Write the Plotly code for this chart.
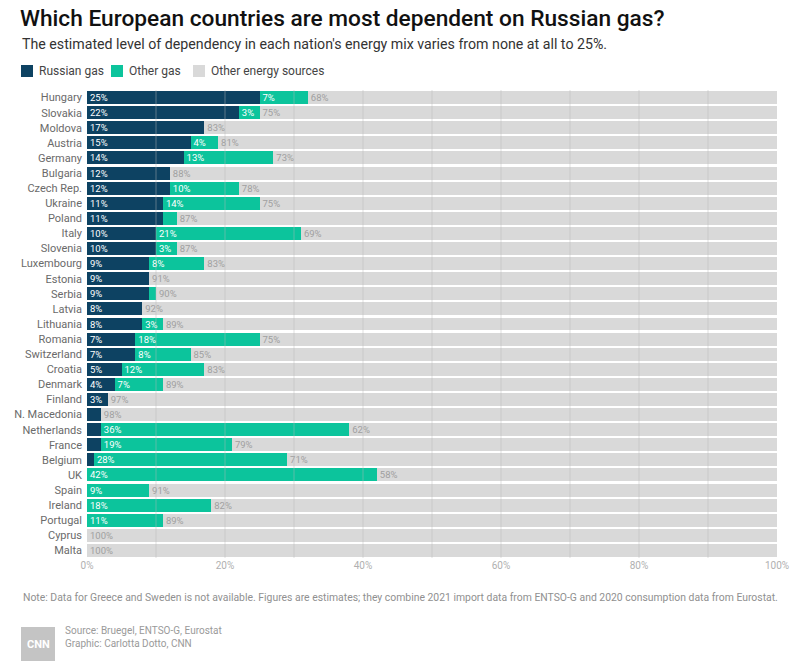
import plotly.graph_objects as go

# values (% of each country's energy mix)
countries = ["Hungary", "Slovakia", "Moldova", "Austria", "Germany", "Bulgaria",
             "Czech Rep.", "Ukraine", "Poland", "Italy", "Slovenia", "Luxembourg",
             "Estonia", "Serbia", "Latvia", "Lithuania", "Romania", "Switzerland",
             "Croatia", "Denmark", "Finland", "N. Macedonia", "Netherlands", "France",
             "Belgium", "UK", "Spain", "Ireland", "Portugal", "Cyprus", "Malta"]
russian_gas = [25, 22, 17, 15, 14, 12, 12, 11, 11, 10, 10, 9, 9, 9, 8, 8, 7, 7,
               5, 4, 3, 2, 2, 2, 1, 0, 0, 0, 0, 0, 0]
other_gas = [7, 3, 0, 4, 13, 0, 10, 14, 2, 21, 3, 8, 0, 1, 0, 3, 18, 8,
             12, 7, 0, 0, 36, 19, 28, 42, 9, 18, 11, 0, 0]
other_sources = [68, 75, 83, 81, 73, 88, 78, 75, 87, 69, 87, 83, 91, 90, 92, 89, 75, 85,
                 83, 89, 97, 98, 62, 79, 71, 58, 91, 82, 89, 100, 100]
x_ticks = [0, 20, 40, 60, 80, 100]

NAVY = "#0d4262"
TEAL = "#0cc49c"
GREY = "#d9d9d9"

W, H = 805, 671
L, R, T, B = 87, 28, 90, 113
PW, PH = W - L - R, H - T - B


def px(x):
    # page pixel -> paper x
    return (x - L) / PW


def py(y):
    # page pixel -> paper y
    return (H - B - y) / PH


def labels(vals):
    # small slivers are left unlabelled in the original
    return [f"{v}%" if v >= 3 else "" for v in vals]


fig = go.Figure()

series = [
    ("Russian gas", russian_gas, NAVY, "white"),
    ("Other gas", other_gas, TEAL, "white"),
    ("Other energy sources", other_sources, GREY, "#a0a0a0"),
]
for name, vals, color, txtcolor in series:
    fig.add_trace(go.Bar(
        y=countries,
        x=vals,
        name=name,
        orientation="h",
        marker=dict(color=color, line=dict(width=0)),
        text=labels(vals),
        textposition="inside",
        insidetextanchor="start",
        textangle=0,
        textfont=dict(family="Roboto", size=9.5, color=txtcolor),
        hoverinfo="skip",
        showlegend=False,
    ))

# faint gridlines drawn over the bars, every 10%
for g in range(10, 100, 10):
    fig.add_shape(type="line", xref="x", yref="paper", x0=g, x1=g, y0=0, y1=1,
                  line=dict(color="rgba(185,185,185,0.45)", width=1), layer="above")

# hand-made legend row
legend_items = [("Russian gas", NAVY, 21), ("Other gas", TEAL, 111), ("Other energy sources", GREY, 193)]
for name, color, x0 in legend_items:
    fig.add_shape(type="rect", xref="paper", yref="paper",
                  x0=px(x0), x1=px(x0 + 12), y0=py(77), y1=py(65),
                  fillcolor=color, line=dict(width=0))
    fig.add_annotation(text=name, xref="paper", yref="paper",
                       x=px(x0 + 16), y=py(71), xanchor="left", yanchor="middle",
                       showarrow=False, font=dict(family="Roboto", size=12, color="#444"))

fig.update_layout(
    width=W,
    height=H,
    barmode="stack",
    bargap=0.14,
    paper_bgcolor="white",
    plot_bgcolor="white",
    margin=dict(l=L, r=R, t=T, b=B, autoexpand=False),
    font=dict(family="Roboto", color="#555"),
    title=dict(
        text="Which European countries are most dependent on Russian gas?",
        x=20 / W, xanchor="left", y=1 - 18 / H, yanchor="middle",
        font=dict(family="Roboto", size=22.7, color="#111", weight=500),
    ),
    showlegend=False,
    uniformtext=dict(minsize=9, mode="show"),
)

fig.update_xaxes(
    range=[0, 100],
    tickvals=x_ticks,
    ticktext=[f"{t}%" for t in x_ticks],
    tickfont=dict(size=10, color="#b0b0b0"),
    showgrid=False,
    zeroline=False,
    showline=False,
    ticks="",
    automargin=False,
    fixedrange=True,
)
fig.update_yaxes(
    autorange="reversed",
    tickfont=dict(size=11, color="#6a6a6a"),
    showgrid=False,
    ticks="",
    ticklabelstandoff=4,
    automargin=False,
    fixedrange=True,
)

fig.add_annotation(
    text="The estimated level of dependency in each nation's energy mix varies from none at all to 25%.",
    xref="paper", yref="paper", x=px(20), y=py(44),
    xanchor="left", yanchor="middle", showarrow=False,
    font=dict(family="Roboto", size=14.2, color="#333"),
)
fig.add_annotation(
    text="Note: Data for Greece and Sweden is not available. Figures are estimates; they combine 2021 import data "
         "from ENTSO-G and 2020 consumption data from Eurostat.",
    xref="paper", yref="paper", x=px(21), y=py(597),
    xanchor="left", yanchor="middle", showarrow=False,
    font=dict(family="Roboto", size=10.4, color="#909090"),
)
fig.add_annotation(
    text="Source: Bruegel, ENTSO-G, Eurostat<br>Graphic: Carlotta Dotto, CNN",
    xref="paper", yref="paper", x=px(63), y=py(637),
    xanchor="left", yanchor="middle", showarrow=False, align="left",
    font=dict(family="Roboto", size=10, color="#9a9a9a"),
)
# CNN logo block
fig.add_shape(type="rect", xref="paper", yref="paper",
              x0=px(21), x1=px(55), y0=py(661), y1=py(627),
              fillcolor="#c4c4c4", line=dict(width=0), layer="above")
fig.add_annotation(
    text="<b>CNN</b>", xref="paper", yref="paper", x=px(38), y=py(644),
    xanchor="center", yanchor="middle", showarrow=False,
    font=dict(family="Roboto", size=11, color="white"),
)

# the page's default 8px body margin would push the figure off the window
fig.write_html("out.html", config={"displayModeBar": False},
               post_script="document.body.style.margin='0';")
